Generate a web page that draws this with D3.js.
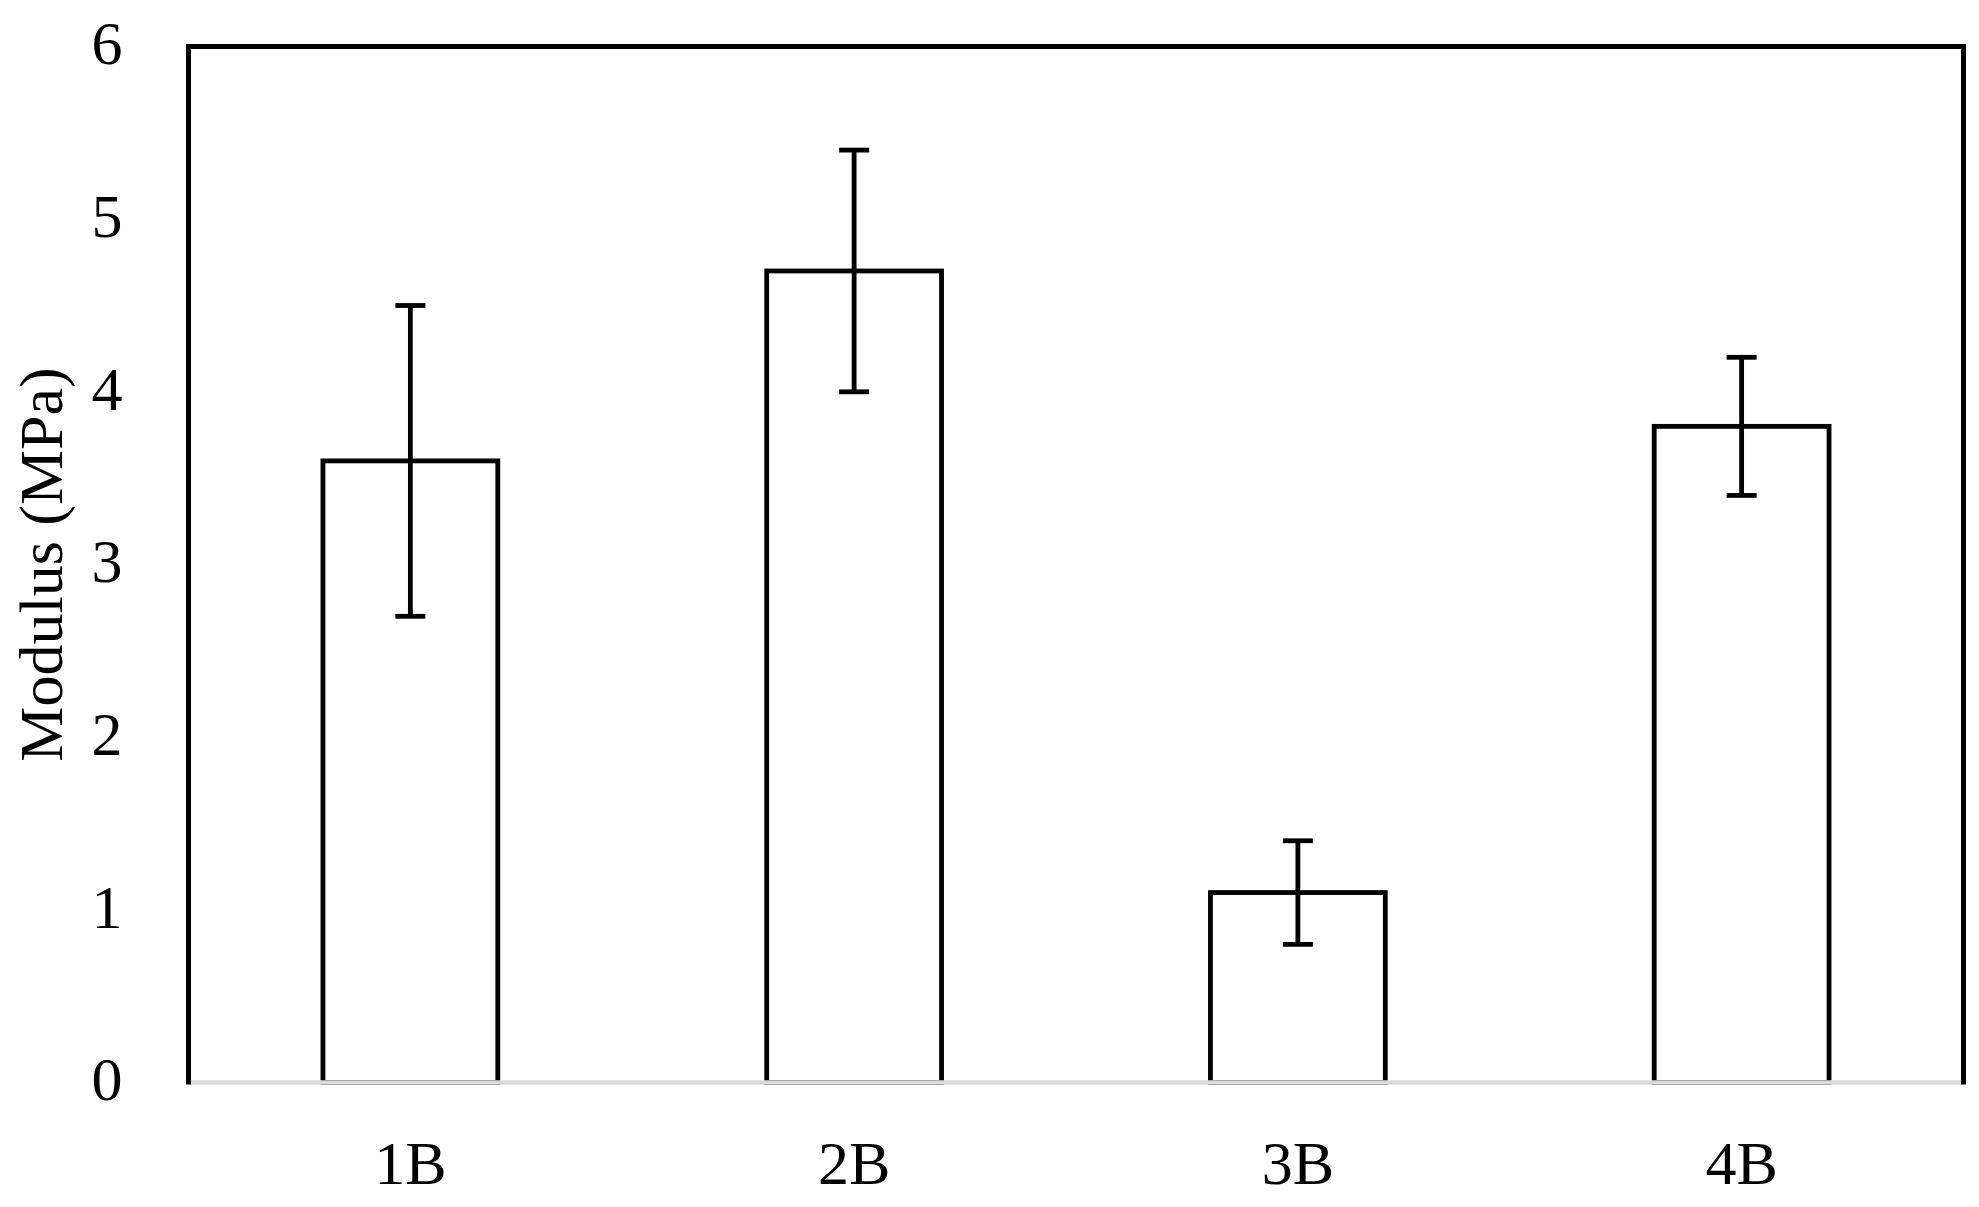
<!DOCTYPE html>
<html>
<head>
<meta charset="utf-8">
<script src="https://cdn.jsdelivr.net/npm/d3@7"></script>
<style>
  html, body { margin: 0; padding: 0; background: #ffffff; }
  svg { display: block; }
  text { font-family: "Liberation Serif", "Times New Roman", serif; fill: #000; }
</style>
</head>
<body>
<svg id="chart" width="1979" height="1207"></svg>
<script>
const categories = ["1B", "2B", "3B", "4B"];
const modulus = [3.6, 4.7, 1.1, 3.8];
const errorAmount = [0.9, 0.7, 0.3, 0.4];
const yTicks = [0, 1, 2, 3, 4, 5, 6];
const yLabel = "Modulus (MPa)";

(function () {
const W = 1979, H = 1207;
const pLeft = 188.5, pRight = 1963.5, pTop = 46.5, pBottom = 1082.5;

const svg = d3.select("#chart");
svg.append("rect").attr("width", W).attr("height", H).attr("fill", "#fff");

const x = d3.scaleBand()
  .domain(categories)
  .range([pLeft, pRight])
  .paddingInner(0.606)
  .paddingOuter(0.303);

const y = d3.scaleLinear().domain([0, 6]).range([pBottom, pTop]);

// bars
svg.append("g").selectAll("rect")
  .data(categories)
  .join("rect")
  .attr("x", d => x(d))
  .attr("y", (d, i) => y(modulus[i]))
  .attr("width", x.bandwidth())
  .attr("height", (d, i) => y(0) - y(modulus[i]))
  .attr("fill", "#fff")
  .attr("stroke", "#000")
  .attr("stroke-width", 4.8);

// error bars
const capW = 30;
const eg = svg.append("g").attr("stroke", "#000").attr("stroke-width", 4.8);
categories.forEach((c, i) => {
  const cx = x(c) + x.bandwidth() / 2;
  const hi = y(modulus[i] + errorAmount[i]);
  const lo = y(modulus[i] - errorAmount[i]);
  eg.append("line").attr("x1", cx).attr("x2", cx).attr("y1", hi).attr("y2", lo);
  eg.append("line").attr("x1", cx - capW / 2).attr("x2", cx + capW / 2).attr("y1", hi).attr("y2", hi);
  eg.append("line").attr("x1", cx - capW / 2).attr("x2", cx + capW / 2).attr("y1", lo).attr("y2", lo);
});

// gray category axis at bottom, black plot border on other sides
svg.append("line").attr("x1", pLeft).attr("x2", pRight).attr("y1", pBottom).attr("y2", pBottom)
  .attr("stroke", "#d9d9d9").attr("stroke-width", 4.5);
svg.append("path")
  .attr("d", `M${pLeft},${pBottom + 2} L${pLeft},${pTop} L${pRight},${pTop} L${pRight},${pBottom + 2}`)
  .attr("fill", "none").attr("stroke", "#000").attr("stroke-width", 5)
  .attr("stroke-linejoin", "miter");

// y axis tick labels (no tick lines)
const yAxis = d3.axisLeft(y).tickValues(yTicks).tickSize(0).tickPadding(66).tickFormat(d3.format("d"));
const ya = svg.append("g").attr("transform", `translate(${pLeft},0)`).call(yAxis);
ya.select(".domain").remove();
ya.selectAll("text")
  .attr("font-family", "Liberation Serif, serif")
  .attr("font-size", 62)
  .attr("fill", "#000")
  .attr("dy", "0.28em");

// x axis labels
const xAxis = d3.axisBottom(x).tickSize(0).tickPadding(101);
const xa = svg.append("g").attr("transform", `translate(0,${pBottom})`).call(xAxis);
xa.select(".domain").remove();
xa.selectAll("text")
  .attr("font-family", "Liberation Serif, serif")
  .attr("font-size", 62)
  .attr("fill", "#000")
  .attr("dy", "0");

// y axis title
svg.append("text")
  .attr("transform", `translate(62,${(pTop + pBottom) / 2}) rotate(-90)`)
  .attr("text-anchor", "middle")
  .attr("font-size", 62)
  .text(yLabel);
})();
</script>
</body>
</html>
